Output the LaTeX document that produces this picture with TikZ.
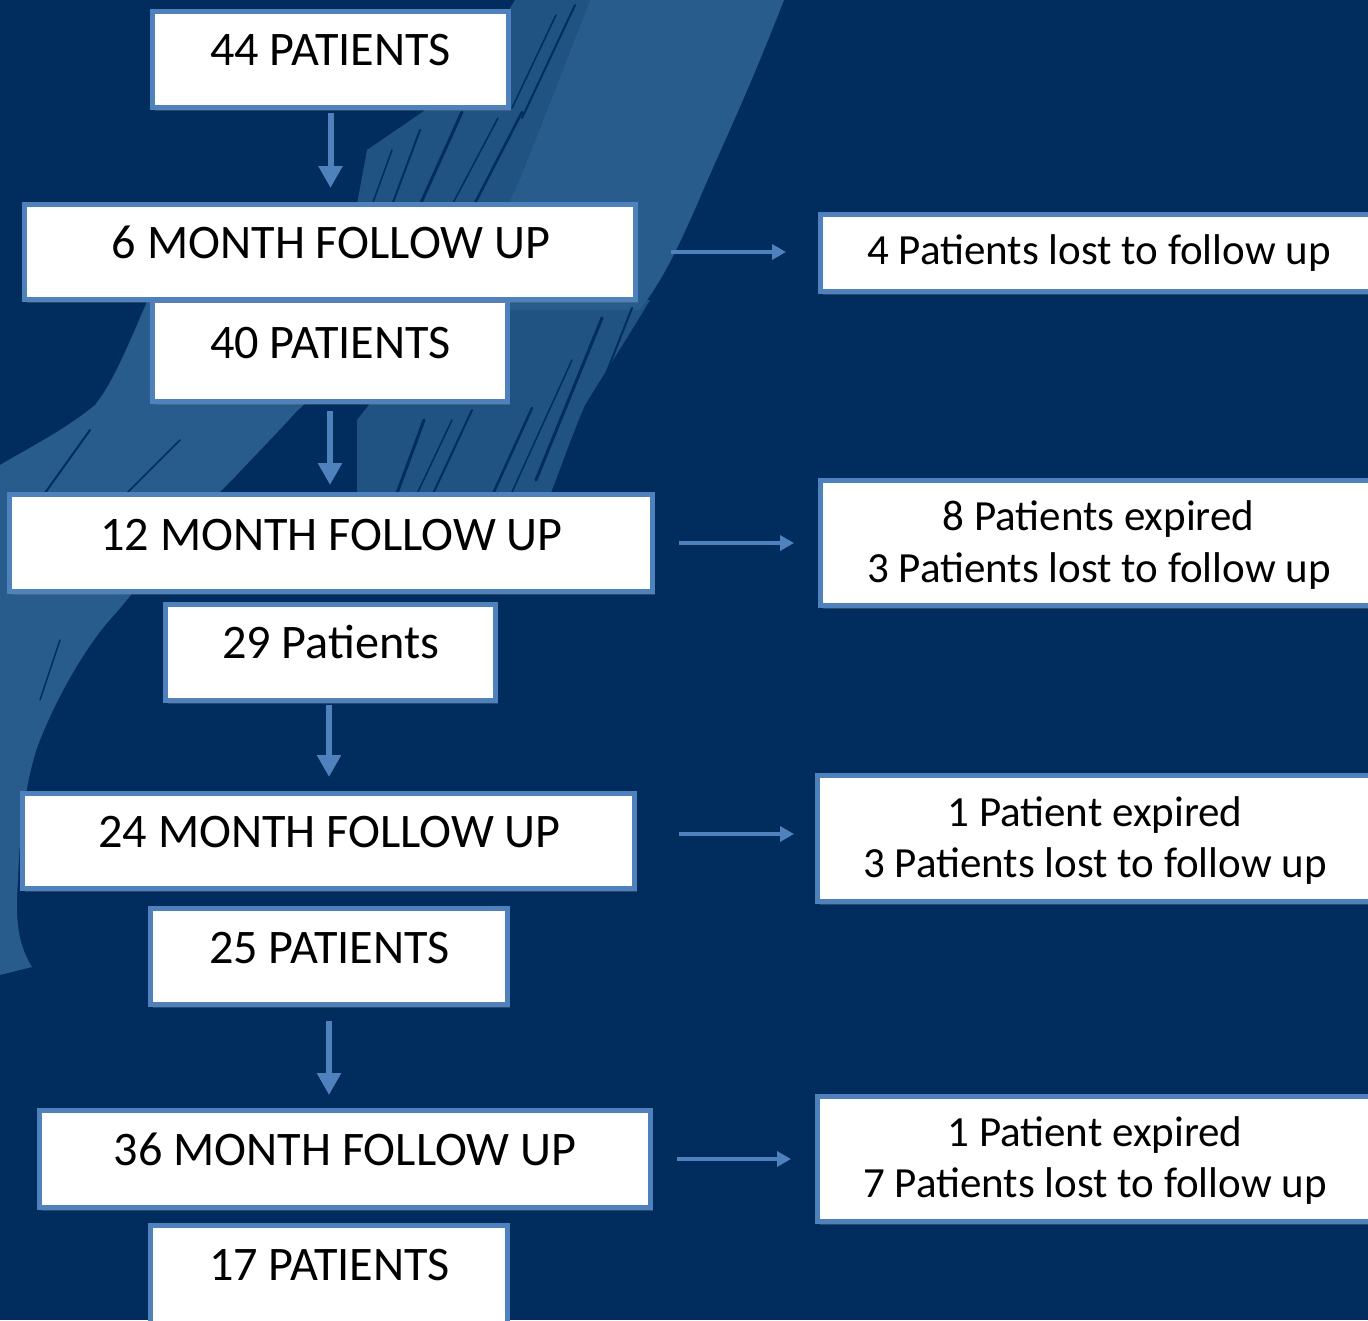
\documentclass[tikz,border=0pt]{standalone}
\usepackage{fontspec}
\setmainfont{Carlito}
\usetikzlibrary{arrows.meta,shadows,calc}
\definecolor{bg}{HTML}{002D5E}
\definecolor{band}{HTML}{285C8C}
\definecolor{boxblue}{HTML}{4F81BD}
\tikzset{
 box/.style={draw=boxblue, line width=5pt, fill=white, inner sep=0pt,
   drop shadow={shadow xshift=2pt,shadow yshift=-3pt,opacity=0.35}},
 tl/.style={font=\fontsize{48.2}{58}\selectfont, anchor=base, inner sep=0pt},
 tr/.style={font=\fontsize{43}{52}\selectfont, anchor=base, inner sep=0pt},
 varrow/.style={draw=boxblue, line width=6pt, -{Triangle[width=23pt,length=22pt]}},
 harrow/.style={draw=boxblue, line width=4.5pt, -{Triangle[width=15pt,length=14pt]}},
 gap/.style={bg, line cap=round},
}
\begin{document}
\begin{tikzpicture}[x=1pt,y=-1pt]
\fill[bg] (0,0) rectangle (1368,1320);
\useasboundingbox (0,0) rectangle (1368,1320);
\clip (0,0) rectangle (1368,1320);
% brush stroke: upper solid part
\fill[band] (590,0) -- (784,0) .. controls (745,100) and (720,150) .. (699,200)
  .. controls (675,255) and (662,280) .. (640,310) -- (470,310)
  .. controls (490,250) and (505,210) .. (515,190)
  .. controls (540,130) and (570,50) .. (590,0) -- cycle;
% upper streaky part
\fill[band, opacity=0.8] (515,0) -- (590,0) .. controls (570,50) and (540,130) .. (515,190)
  -- (505,215) -- (355,215) -- (367,150) -- (440,100) -- (500,25) -- cycle;
\draw[gap, line width=2pt] (575,5) -- (522,118);
\draw[gap, line width=1.5pt] (556,15) -- (512,108);
\draw[gap, line width=2.5pt] (522,112) -- (474,205);
\draw[gap, line width=1.5pt] (498,118) -- (452,205);
\draw[gap, line width=3pt] (462,112) -- (420,205);
\draw[gap, line width=2pt] (420,130) -- (392,205);
\draw[gap, line width=1.5pt] (392,150) -- (372,205);
% lower streaky part
\fill[band, opacity=0.8] (470,300) -- (650,300) .. controls (620,350) and (600,380) .. (585,405)
  .. controls (570,440) and (560,470) .. (550,495) -- (357,495) -- (357,420) -- (420,340) -- cycle;
\draw[gap, line width=2pt] (632,308) -- (568,470);
\draw[gap, line width=3pt] (602,318) -- (536,480);
\draw[gap, line width=1.5pt] (572,360) -- (512,492);
\draw[gap, line width=2.5pt] (532,408) -- (492,496);
\draw[gap, line width=2pt] (472,410) -- (432,496);
\draw[gap, line width=3pt] (424,420) -- (396,496);
\draw[gap, line width=1.5pt] (452,420) -- (416,496);
% lower-left solid part
\fill[band] (150,295) .. controls (130,340) and (115,380) .. (95,405)
  .. controls (65,430) and (25,450) .. (0,465) -- (0,975) -- (32,967)
  .. controls (15,940) and (16,910) .. (18,880)
  .. controls (20,820) and (28,770) .. (40,740)
  .. controls (60,690) and (90,640) .. (116,613)
  .. controls (160,560) and (210,500) .. (232,480)
  .. controls (260,450) and (280,430) .. (295,413)
  .. controls (350,360) and (420,310) .. (440,295) -- cycle;
\draw[gap, line width=2pt] (90,430) -- (40,500);
\draw[gap, line width=1.5pt] (180,440) -- (120,500);
\draw[gap, line width=1.5pt] (60,640) -- (40,700);
% boxes
\node[box, minimum width=356pt, minimum height=96pt] (b44) at (330.5,59.5) {};
\node[box, minimum width=355pt, minimum height=101pt] (b40) at (330,351) {};
\node[box, minimum width=611pt, minimum height=95pt] (m6) at (330,252) {};
\node[box, minimum width=643pt, minimum height=97pt] (m12) at (331,543) {};
\node[box, minimum width=330pt, minimum height=96pt] (b29) at (330.5,652.5) {};
\node[box, minimum width=612pt, minimum height=95pt] (m24) at (328.5,841) {};
\node[box, minimum width=357pt, minimum height=96pt] (b25) at (329,956.5) {};
\node[box, minimum width=611pt, minimum height=97pt] (m36) at (345,1159) {};
\node[box, minimum width=357pt, minimum height=102pt] (b17) at (329,1276.5) {};
\node[box, minimum width=557pt, minimum height=77pt] (R1) at (1099,253) {};
\node[box, minimum width=557pt, minimum height=125pt] (R2) at (1099,543) {};
\node[box, minimum width=555pt, minimum height=126pt] (R3) at (1095,838.5) {};
\node[box, minimum width=555pt, minimum height=125pt] (R4) at (1095,1159) {};
% texts
\node[tl] (t44) at (330.5,65) {44 PATIENTS};
\node[tl] (t6) at (331,258) {6 MONTH FOLLOW UP};
\node[tl] (t40) at (330.5,358) {40 PATIENTS};
\node[tl] (t12) at (331.5,550) {12 MONTH FOLLOW UP};
\node[tl] (t29) at (330.5,658) {29 Patients};
\node[tl] (t24) at (329.5,847) {24 MONTH FOLLOW UP};
\node[tl] (t25) at (329.5,963) {25 PATIENTS};
\node[tl] (t36) at (345,1165) {36 MONTH FOLLOW UP};
\node[tl] (t17) at (329.5,1280) {17 PATIENTS};
\node[tr] (r1) at (1099,264) {4 Patients lost to follow up};
\node[tr] (r2a) at (1098.5,530) {8 Patients expired};
\node[tr] (r2b) at (1099,582) {3 Patients lost to follow up};
\node[tr] (r3a) at (1095,826) {1 Patient expired};
\node[tr] (r3b) at (1095,877) {3 Patients lost to follow up};
\node[tr] (r4a) at (1095,1146) {1 Patient expired};
\node[tr] (r4b) at (1095,1197) {7 Patients lost to follow up};
% vertical arrows
\draw[varrow, shorten <=3pt, shorten >=14pt] (b44.south) -- (b44.south |- m6.north);
\draw[varrow, shorten <=7pt, shorten >=7pt] (b40.south) -- (b40.south |- m12.north);
\draw[varrow, shorten <=2pt, shorten >=14pt] ([xshift=-1.5pt]b29.south) -- ([xshift=-1.5pt]b29.south |- m24.north);
\draw[varrow, shorten <=14pt, shorten >=13pt] (b25.south) -- (b25.south |- m36.north);
% horizontal arrows
\draw[harrow, shorten <=33pt, shorten >=32pt] (m6.east) -- (m6.east -| R1.west);
\draw[harrow, shorten <=24pt, shorten >=24pt] (m12.east) -- (m12.east -| R2.west);
\draw[harrow, shorten <=42pt, shorten >=21pt] ([yshift=7pt]m24.east) -- ([yshift=7pt]m24.east -| R3.west);
\draw[harrow, shorten <=24pt, shorten >=24pt] (m36.east) -- (m36.east -| R4.west);
\end{tikzpicture}
\end{document}
